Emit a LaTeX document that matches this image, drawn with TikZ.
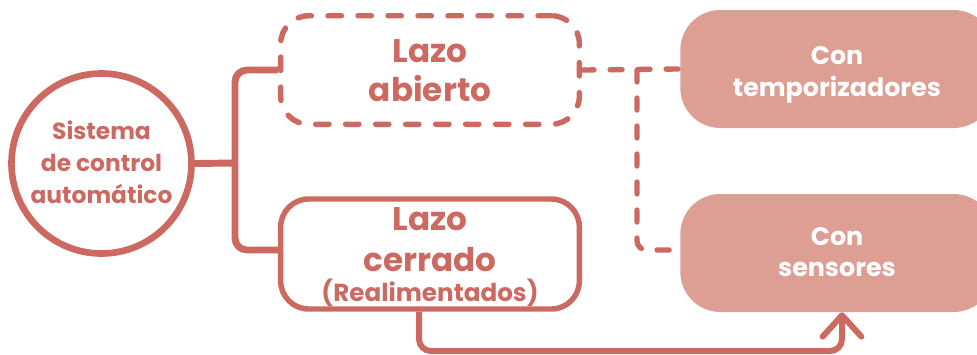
\documentclass[tikz,border=0pt]{standalone}
\usepackage{fontspec}
\setmainfont{Poppins}
\usetikzlibrary{arrows.meta}
\definecolor{stk}{HTML}{CC6A62}
\definecolor{fil}{HTML}{DD9E94}
\begin{document}
\begin{tikzpicture}[x=0.75pt,y=-0.75pt,
  conn/.style={draw=stk,line width=5.2pt,rounded corners=9pt},
  dconn/.style={draw=stk,line width=4pt,dash pattern=on 9pt off 12pt,line cap=round,rounded corners=7pt},
  lazobox/.style={draw=stk,line width=4.1pt,rounded corners=21pt,minimum width=224pt,inner sep=0pt},
  conbox/.style={fill=fil,rounded corners=30pt,minimum width=235pt,minimum height=88.5pt,inner sep=0pt},
  big/.style={anchor=base,inner sep=0pt,text=stk,font=\bfseries\fontsize{24.5}{29}\selectfont},
  small/.style={anchor=base,inner sep=0pt,text=stk,font=\bfseries\fontsize{17.5}{24}\selectfont},
  contxt/.style={anchor=base,inner sep=0pt,text=white,font=\bfseries\fontsize{19}{24}\selectfont}]
\useasboundingbox (0,0) rectangle (977,354);
\node[draw=stk,line width=5pt,circle,minimum size=135pt,inner sep=0pt] (sys) at (101.5,163.5) {};
\node[small] (s1) at (101.5,139.3) {Sistema};
\node[small] (s2) at (101.5,171.7) {de control};
\node[small] (s3) at (101.5,203) {automático};
\node[lazobox,dashed,dash pattern=on 10pt off 12.5pt,line cap=round,minimum height=81.4pt] (ab) at (430,70) {};
\node[big] (a1) at (430,62.7) {Lazo};
\node[big] (a2) at (430,101.7) {abierto};
\node[lazobox,minimum height=82.5pt] (ce) at (430,254) {};
\node[big] (c1) at (430,230) {Lazo};
\node[big] (c2) at (430,271.7) {cerrado};
\node[small,font=\bfseries\fontsize{18.5}{22}\selectfont] (c3) at (430,301.5) {(Realimentados)};
\node[conbox] (temp) at (837,69) {};
\node[contxt] (t1) at (837,64) {Con};
\node[contxt] (t2) at (837,96.7) {temporizadores};
\node[conbox] (sens) at (837,253) {};
\node[contxt] (n1) at (837,245) {Con};
\node[contxt] (n2) at (837,276.7) {sensores};
\coordinate (tr) at (235,163);
\coordinate (br) at (637,70);
\coordinate (bot) at (419,351);
\draw[conn] (sys.east) -- (tr);
\draw[conn] (ab.west) -- (235,70) -- (235,250) -- ([yshift=3pt]ce.west);
\draw[dconn] (ab.east) -- (temp.west);
\draw[dconn] (br) -- (637,250) -- ([yshift=2.25pt]sens.west);
\draw[conn,line width=4.5pt,-{Straight Barb[length=16pt,width=29pt,round]}] ([xshift=-8.25pt]ce.south) -- (bot) -- (842,351) -- ([xshift=3.75pt]sens.south);
\end{tikzpicture}
\end{document}
